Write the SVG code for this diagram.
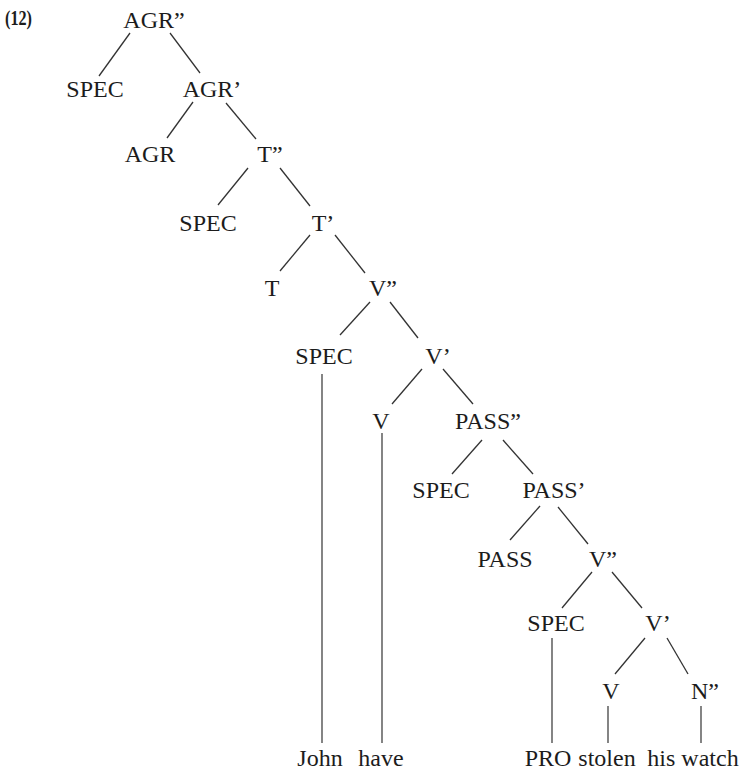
<svg xmlns="http://www.w3.org/2000/svg" width="741" height="775" viewBox="0 0 741 775">
<style>
.t{font-family:"Liberation Serif","Times New Roman",serif;font-size:24px;fill:#1c1c1c;text-anchor:middle}
.n{font-family:"Liberation Serif","Times New Roman",serif;font-size:21px;font-weight:bold;fill:#1c1c1c}
.e line{stroke:#333;stroke-width:1.3}
.e .v{stroke:#666;stroke-width:1.6}
</style>
<rect width="741" height="775" fill="#fff"/>
<text class="n" x="5" y="25" textLength="27" lengthAdjust="spacingAndGlyphs">(12)</text>
<g id="agr2"><text class="t" x="154" y="28">AGR”</text></g>
<g id="spec1"><text class="t" x="95" y="97">SPEC</text></g>
<g id="agr1"><text class="t" x="212" y="97">AGR’</text></g>
<g id="agr0"><text class="t" x="150" y="162">AGR</text></g>
<g id="t2"><text class="t" x="270" y="162">T”</text></g>
<g id="spec2"><text class="t" x="208" y="231">SPEC</text></g>
<g id="t1"><text class="t" x="323" y="231">T’</text></g>
<g id="t0"><text class="t" x="272" y="296">T</text></g>
<g id="v2a"><text class="t" x="383" y="296">V”</text></g>
<g id="spec3"><text class="t" x="324" y="364">SPEC</text></g>
<g id="v1a"><text class="t" x="438" y="364">V’</text></g>
<g id="v0a"><text class="t" x="381" y="429">V</text></g>
<g id="pass2"><text class="t" x="488" y="429">PASS”</text></g>
<g id="spec4"><text class="t" x="441" y="498">SPEC</text></g>
<g id="pass1"><text class="t" x="554" y="498">PASS’</text></g>
<g id="pass0"><text class="t" x="505" y="567">PASS</text></g>
<g id="v2b"><text class="t" x="603" y="567">V”</text></g>
<g id="spec5"><text class="t" x="556" y="631">SPEC</text></g>
<g id="v1b"><text class="t" x="658" y="631">V’</text></g>
<g id="v0b"><text class="t" x="611" y="699">V</text></g>
<g id="n2"><text class="t" x="705" y="699">N”</text></g>
<g id="john"><text class="t" x="320" y="766">John</text></g>
<g id="have"><text class="t" x="381" y="766">have</text></g>
<g id="pro"><text class="t" x="548" y="766">PRO</text></g>
<g id="stolen"><text class="t" x="607" y="766">stolen</text></g>
<g id="hiswatch"><text class="t" x="693" y="766">his watch</text></g>
<g id="connectors" class="e">
<line x1="130" y1="33" x2="99" y2="76"/>
<line x1="170" y1="33" x2="200" y2="73"/>
<line x1="193" y1="102" x2="167" y2="138"/>
<line x1="226" y1="103" x2="256" y2="139"/>
<line x1="248" y1="168" x2="218" y2="205"/>
<line x1="280" y1="168" x2="310" y2="206"/>
<line x1="310" y1="235" x2="280" y2="271"/>
<line x1="335" y1="235" x2="365" y2="273"/>
<line x1="370" y1="302" x2="340" y2="335"/>
<line x1="390" y1="302" x2="418" y2="338"/>
<line x1="422" y1="369" x2="392" y2="404"/>
<line x1="443" y1="369" x2="473" y2="404"/>
<line x1="482" y1="440" x2="452" y2="474"/>
<line x1="503" y1="440" x2="533" y2="474"/>
<line x1="540" y1="506" x2="510" y2="540"/>
<line x1="558" y1="507" x2="588" y2="544"/>
<line x1="592" y1="572" x2="562" y2="608"/>
<line x1="612" y1="572" x2="642" y2="608"/>
<line x1="645" y1="638" x2="615" y2="674"/>
<line x1="667" y1="638" x2="688" y2="674"/>
<line class="v" x1="322" y1="374" x2="322" y2="743"/>
<line class="v" x1="382" y1="433" x2="382" y2="743"/>
<line class="v" x1="552" y1="638" x2="552" y2="743"/>
<line class="v" x1="608" y1="706" x2="608" y2="743"/>
<line class="v" x1="701" y1="706" x2="701" y2="743"/>
</g>
</svg>
